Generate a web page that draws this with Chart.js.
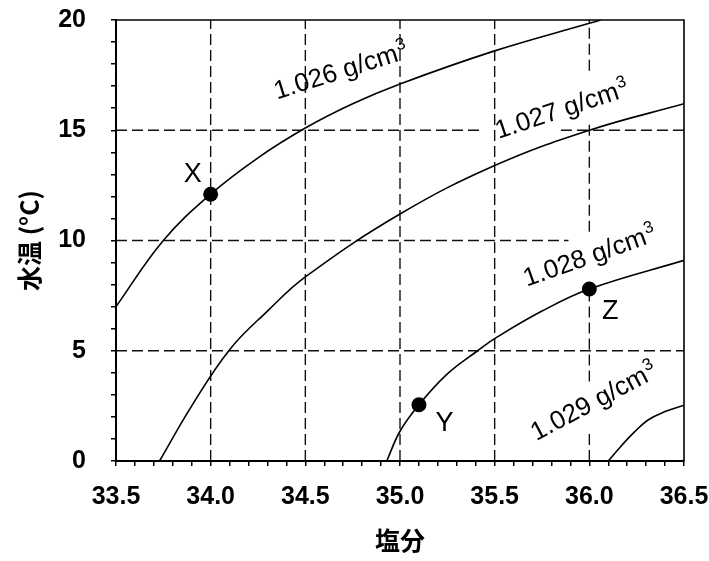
<!DOCTYPE html>
<html><head><meta charset="utf-8">
<script src="https://cdn.jsdelivr.net/npm/chart.js@4"></script>
<style>html,body{margin:0;padding:0;background:#fff}#wrap{width:709px;height:561px}</style>
</head><body><div id="wrap"><canvas id="c" width="709" height="561"></canvas></div>
<script>
// ---- data ----
const xTicks = [33.5, 34.0, 34.5, 35.0, 35.5, 36.0, 36.5];
const xTickLabels = ['33.5', '34.0', '34.5', '35.0', '35.5', '36.0', '36.5'];
const yTicks = [0, 5, 10, 15, 20];
const yTickLabels = ['0', '5', '10', '15', '20'];

// isopycnals: [salinity, temperature]
const iso1026 = [[33.5,7.0],[33.75,10.0],[34.0,12.1],[34.25,13.75],[34.5,15.1],[34.75,16.2],[35.0,17.1],[35.5,18.6],[36.0,19.85],[36.06,20.0]];
const iso1027 = [[33.73,0],[33.9,2.5],[34.1,5.05],[34.3,6.8],[34.5,8.35],[35.0,11.2],[35.5,13.4],[36.0,15.0],[36.5,16.2]];
const iso1028 = [[34.93,0],[35.0,1.35],[35.1,2.55],[35.25,3.95],[35.41,5.0],[35.5,5.55],[35.75,6.8],[36.0,7.8],[36.5,9.1]];
const iso1029 = [[36.10,0],[36.165,0.65],[36.24,1.33],[36.31,1.86],[36.40,2.24],[36.5,2.53]];
const densityNames = ['1.026', '1.027', '1.028', '1.029'];
const densityUnit = 'g/cm';
const densityUnitSup = '3';

// water samples
const pointNames = ['X', 'Y', 'Z'];
const pointSalinity = [34.0, 35.1, 36.0];
const pointTemp = [12.1, 2.55, 7.8];

// dashed reference lines (data-space spans)
const gridVertical = [34.0, 34.5, 35.0, 35.5, 36.0];
const gridVerticalSpans = [[[0,20]],[[0,20]],[[0,20]],[[0,20]],[[0,1.4],[3.6,7.8],[10.4,15.3],[17.7,20]]];
const gridHorizontal = [5, 10, 15];
const gridHorizontalSpans = [[[33.5,36.5]],[[33.5,35.89]],[[33.5,35.44],[35.85,36.5]]];

// ---- label placement (data coordinates) ----
const densityLabelAnchor = [
  {s:34.35, t:16.4, angle:-17.5},
  {s:35.52, t:14.6, angle:-18.5},
  {s:35.67, t:7.9, angle:-19.5},
  {s:35.72, t:0.9, angle:-28}
];
const pointLabelAnchor = [
  {s:33.905, t:13.0},
  {s:35.235, t:1.7},
  {s:36.11, t:6.8}
];

const FONT = '"Liberation Sans", Arial, Helvetica, sans-serif';
const CJK = '"Noto Sans CJK JP", "Noto Sans CJK SC", sans-serif';

const toXY = arr => arr.map(([s, t]) => ({x: s, y: t}));
const datasets = [];

datasets.push({
  type: 'scatter',
  data: pointSalinity.map((s, i) => ({x: s, y: pointTemp[i]})),
  pointRadius: 7.5, pointBackgroundColor: '#000', pointBorderColor: '#000', pointBorderWidth: 0,
  order: 0
});

[iso1026, iso1027, iso1028, iso1029].forEach(c => datasets.push({
  type: 'line', data: toXY(c), borderColor: '#000', borderWidth: 1.6,
  pointRadius: 0, fill: false, tension: 0.4, order: 1
}));

const gridStyle = {type: 'line', borderColor: '#111', borderWidth: 1.4, borderDash: [11, 5],
  pointRadius: 0, fill: false, tension: 0, order: 2};
gridVertical.forEach((s, i) => gridVerticalSpans[i].forEach(([t0, t1]) =>
  datasets.push(Object.assign({data: [{x: s, y: t0}, {x: s, y: t1}]}, gridStyle))));
gridHorizontal.forEach((t, i) => gridHorizontalSpans[i].forEach(([s0, s1]) =>
  datasets.push(Object.assign({data: [{x: s0, y: t}, {x: s1, y: t}]}, gridStyle))));

const annotate = {
  id: 'annotate',
  afterDatasetsDraw(chart) {
    const {ctx, chartArea: a, scales: {x, y}} = chart;
    ctx.save();
    ctx.strokeStyle = '#000';
    ctx.lineWidth = 1.6;
    ctx.beginPath();
    ctx.moveTo(a.left, a.top);
    ctx.lineTo(a.right, a.top);
    ctx.lineTo(a.right, a.bottom);
    ctx.stroke();
    ctx.fillStyle = '#000';
    densityLabelAnchor.forEach((p, i) => {
      ctx.save();
      ctx.translate(x.getPixelForValue(p.s), y.getPixelForValue(p.t));
      ctx.rotate(p.angle * Math.PI / 180);
      ctx.font = '26px ' + FONT;
      ctx.textAlign = 'left';
      ctx.textBaseline = 'alphabetic';
      const main = densityNames[i] + ' ' + densityUnit;
      ctx.fillText(main, 0, 0);
      const w = ctx.measureText(main).width;
      ctx.font = '17px ' + FONT;
      ctx.fillText(densityUnitSup, w + 1, -10);
      ctx.restore();
    });
    ctx.font = '27px ' + FONT;
    ctx.textAlign = 'center';
    ctx.textBaseline = 'middle';
    pointLabelAnchor.forEach((p, i) => {
      ctx.fillText(pointNames[i], x.getPixelForValue(p.s), y.getPixelForValue(p.t));
    });
    ctx.restore();
  }
};

const findLabel = (v, ticks, labels) => {
  const k = ticks.findIndex(t => Math.abs(t - v) < 1e-6);
  return k < 0 ? '' : labels[k];
};

new Chart(document.getElementById('c'), {
  type: 'line',
  data: {datasets},
  plugins: [annotate],
  options: {
    responsive: false,
    animation: false,
    events: [],
    layout: {padding: {left: 0, right: 25, top: 20, bottom: 0}},
    plugins: {legend: {display: false}, tooltip: {enabled: false}},
    scales: {
      x: {
        type: 'linear', min: 33.5, max: 36.5,
        afterFit(s) { s.height = 100; s.paddingLeft = 0; s.paddingRight = 0; },
        ticks: {stepSize: 0.1, autoSkip: false, maxRotation: 0, minRotation: 0, padding: 16, color: '#000',
          font: {size: 25, family: FONT, weight: 'bold'},
          callback: v => findLabel(v, xTicks, xTickLabels)},
        grid: {drawOnChartArea: false, drawTicks: true, tickLength: 5, color: '#000', lineWidth: 1.5},
        border: {display: true, color: '#000', width: 2},
        title: {display: true, text: '塩分', color: '#000',
          font: {size: 25, family: CJK, weight: 'bold'}, padding: {top: 0, bottom: 6}}
      },
      y: {
        type: 'linear', min: 0, max: 20,
        afterFit(s) { s.width = 116; s.paddingTop = 0; s.paddingBottom = 0; },
        ticks: {stepSize: 1, autoSkip: false, padding: 25, color: '#000',
          font: {size: 25, family: FONT, weight: 'bold'},
          callback: v => findLabel(v, yTicks, yTickLabels)},
        grid: {drawOnChartArea: false, drawTicks: true, tickLength: 5, color: '#000', lineWidth: 1.5},
        border: {display: true, color: '#000', width: 2},
        title: {display: true, text: '水温 (°C)', color: '#000',
          font: {size: 25, family: CJK, weight: 'bold'}, padding: {top: 14, bottom: 0}}
      }
    }
  }
});
</script>
</body></html>
